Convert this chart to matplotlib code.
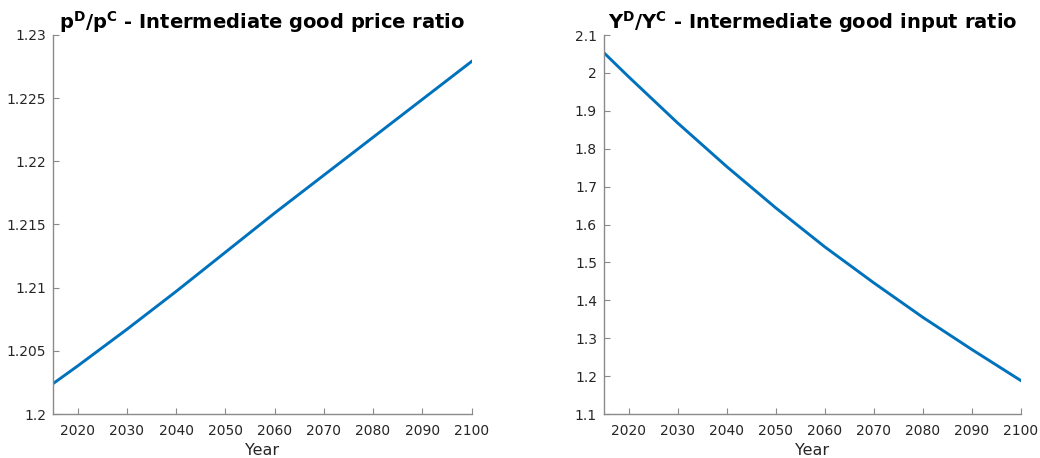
import matplotlib
matplotlib.use("Agg")
import matplotlib.pyplot as plt
from matplotlib.ticker import FixedLocator, FixedFormatter

plt.rcParams['font.family'] = ['DejaVu Sans']
plt.rcParams['mathtext.fontset'] = 'dejavusans'

years = [2015, 2020, 2030, 2040, 2050, 2060, 2070, 2080, 2090, 2100]
price_ratio = [1.2024, 1.2038, 1.2067, 1.2097, 1.2128, 1.2159, 1.2189, 1.2219, 1.2249, 1.2279]
input_ratio = [2.053, 1.990, 1.868, 1.753, 1.644, 1.541, 1.446, 1.355, 1.270, 1.188]

x_ticks = [2020, 2030, 2040, 2050, 2060, 2070, 2080, 2090, 2100]
left_yticks = [1.2, 1.205, 1.21, 1.215, 1.22, 1.225, 1.23]
left_ylabels = ['1.2', '1.205', '1.21', '1.215', '1.22', '1.225', '1.23']
right_yticks = [1.1, 1.2, 1.3, 1.4, 1.5, 1.6, 1.7, 1.8, 1.9, 2.0, 2.1]
right_ylabels = ['1.1', '1.2', '1.3', '1.4', '1.5', '1.6', '1.7', '1.8', '1.9', '2', '2.1']

line_color = '#0072BD'
text_color = '#262626'
axis_color = '#8a8a8a'

fig = plt.figure(figsize=(10.40, 4.58), dpi=100)
W, H = 1040, 458
ax1 = fig.add_axes([53 / W, 44 / H, 418.5 / W, 379 / H])
ax2 = fig.add_axes([604 / W, 44 / H, 417 / W, 379 / H])


def style(ax, yticks, ylabels, ylim):
    ax.set_xlim(2015, 2100)
    ax.set_ylim(*ylim)
    ax.xaxis.set_major_locator(FixedLocator(x_ticks))
    ax.yaxis.set_major_locator(FixedLocator(yticks))
    ax.yaxis.set_major_formatter(FixedFormatter(ylabels))
    for side in ('top', 'right'):
        ax.spines[side].set_visible(False)
    for side in ('left', 'bottom'):
        ax.spines[side].set_color(axis_color)
        ax.spines[side].set_linewidth(1.0)
    ax.tick_params(direction='in', length=4, width=0.8, color=axis_color,
                   labelcolor=text_color, labelsize=10)
    ax.tick_params(axis='x', pad=7)
    ax.tick_params(axis='y', pad=5)
    ax.set_xlabel('Year', fontsize=11.5, color=text_color, labelpad=4)


ax1.plot(years, price_ratio, color=line_color, lw=2.1)
style(ax1, left_yticks, left_ylabels, (1.2, 1.23))
ax1.set_title(r'$\mathbf{p^{D}/p^{C}}$ - Intermediate good price ratio',
              fontsize=14, fontweight='bold', color='black', pad=3)

ax2.plot(years, input_ratio, color=line_color, lw=2.1)
style(ax2, right_yticks, right_ylabels, (1.1, 2.1))
ax2.set_title(r'$\mathbf{Y^{D}/Y^{C}}$ - Intermediate good input ratio',
              fontsize=14, fontweight='bold', color='black', pad=3)

fig.savefig('out.png', dpi=100, facecolor='white')
